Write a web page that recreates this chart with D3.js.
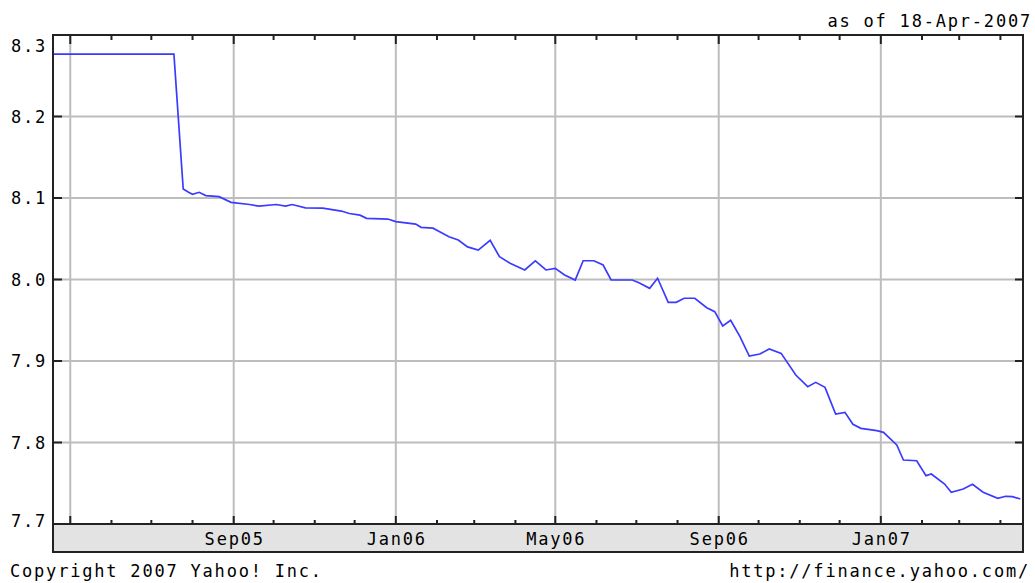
<!DOCTYPE html>
<html>
<head>
<meta charset="utf-8">
<script src="https://cdn.jsdelivr.net/npm/d3@7"></script>
<style>
  body { margin: 0; background: #fff; }
  text { font-family: "DejaVu Sans Mono", monospace; font-size: 17px; letter-spacing: 1.8px; fill: #000; }
</style>
</head>
<body>
<div id="chart"></div>
<script>
// USD/CNY, 2 year view
const dates = [
  "2005-04-18", "2005-07-18", "2005-07-25", "2005-07-29", "2005-08-01", "2005-08-06",
  "2005-08-11", "2005-08-21", "2005-08-30", "2005-09-13", "2005-09-20", "2005-10-03",
  "2005-10-10", "2005-10-15", "2005-10-25", "2005-11-07", "2005-11-21", "2005-11-27",
  "2005-12-05", "2005-12-10", "2005-12-26", "2006-01-01", "2006-01-16", "2006-01-20",
  "2006-01-29", "2006-02-03", "2006-02-10", "2006-02-17", "2006-02-24", "2006-03-04",
  "2006-03-13", "2006-03-20", "2006-03-28", "2006-04-08", "2006-04-16", "2006-04-24",
  "2006-05-01", "2006-05-08", "2006-05-16", "2006-05-22", "2006-05-30", "2006-06-06",
  "2006-06-12", "2006-06-28", "2006-07-03", "2006-07-11", "2006-07-17", "2006-07-25",
  "2006-07-31", "2006-08-06", "2006-08-14", "2006-08-23", "2006-08-29", "2006-09-04",
  "2006-09-10", "2006-09-17", "2006-09-24", "2006-10-02", "2006-10-09", "2006-10-18",
  "2006-10-29", "2006-11-07", "2006-11-13", "2006-11-20", "2006-11-28", "2006-12-05",
  "2006-12-11", "2006-12-17", "2006-12-29", "2007-01-03", "2007-01-13", "2007-01-18",
  "2007-01-28", "2007-02-04", "2007-02-08", "2007-02-18", "2007-02-23", "2007-03-04",
  "2007-03-11", "2007-03-19", "2007-03-30", "2007-04-05", "2007-04-10", "2007-04-16"
];
const rates = [
  8.2765, 8.2765, 8.111, 8.107, 8.1045, 8.107,
  8.103, 8.1016, 8.0947, 8.092, 8.090, 8.092,
  8.090, 8.092, 8.088, 8.0875, 8.084, 8.081,
  8.079, 8.075, 8.0742, 8.071, 8.068, 8.064,
  8.063, 8.0587, 8.0525, 8.0485, 8.040, 8.036,
  8.048, 8.028, 8.020, 8.0117, 8.023, 8.0117,
  8.0137, 8.0055, 7.9994, 8.023, 8.023, 8.0178,
  7.9994, 7.9994, 7.9961, 7.9892, 8.0015, 7.972,
  7.972, 7.977, 7.977, 7.9654, 7.9605, 7.943,
  7.950, 7.930, 7.906, 7.9086, 7.9147, 7.9094,
  7.8828, 7.8685, 7.8738, 7.8677, 7.835, 7.837,
  7.8223, 7.8174, 7.8145, 7.8125, 7.797, 7.7785,
  7.7776, 7.7593, 7.7613, 7.749, 7.739, 7.7429,
  7.7487, 7.739, 7.7315, 7.734, 7.7335, 7.7307
];
const yTicks = [7.7, 7.8, 7.9, 8.0, 8.1, 8.2, 8.3];
const xLabels = ["Sep05", "Jan06", "May06", "Sep06", "Jan07"];
const startDate = "2005-04-18";
const endDate = "2007-04-18";
const asOf = "as of 18-Apr-2007";

const width = 1035, height = 583;
const margin = { top: 35, right: 12, bottom: 59, left: 53 };
const bandH = 28;

const parse = d3.utcParse("%Y-%m-%d");
const fmt = d3.utcFormat("%b%y");
const data = dates.map((d, i) => ({ date: parse(d), value: rates[i] }));

const svg = d3.select("#chart").append("svg")
  .attr("width", width)
  .attr("height", height);

const x = d3.scaleUtc()
  .domain([parse(startDate), parse(endDate)])
  .range([margin.left, width - margin.right]);
const y = d3.scaleLinear()
  .domain([7.7, 8.3])
  .range([height - margin.bottom, margin.top]);

const x0 = x.range()[0], x1 = x.range()[1];
const y0 = y.range()[0], y1 = y.range()[1];

const months = d3.utcMonth.range(x.domain()[0], x.domain()[1]);
const majors = d3.utcMonth.every(4).range(x.domain()[0], x.domain()[1]);

// grey band under the axis
svg.append("rect")
  .attr("x", x0).attr("y", y0)
  .attr("width", x1 - x0).attr("height", bandH)
  .attr("fill", "#e3e3e3")
  .attr("stroke", "#222").attr("stroke-width", 2);

// gridlines
svg.append("g").selectAll("line")
  .data(majors)
  .join("line")
  .attr("x1", d => x(d)).attr("x2", d => x(d))
  .attr("y1", y1).attr("y2", y0)
  .attr("stroke", "#bdbdbd").attr("stroke-width", 2);
svg.append("g").selectAll("line")
  .data(yTicks.slice(1, -1))
  .join("line")
  .attr("x1", x0).attr("x2", x1)
  .attr("y1", d => y(d)).attr("y2", d => y(d))
  .attr("stroke", "#bdbdbd").attr("stroke-width", 2);

// month ticks top and bottom
const isMajor = d => majors.some(m => +m === +d);
const ticks = svg.append("g").attr("stroke", "#222").attr("stroke-width", 2);
ticks.selectAll(".tt")
  .data(months)
  .join("line")
  .attr("class", "tt")
  .attr("x1", d => x(d)).attr("x2", d => x(d))
  .attr("y1", y1).attr("y2", d => y1 + (isMajor(d) ? 9 : 5));
ticks.selectAll(".bt")
  .data(months)
  .join("line")
  .attr("class", "bt")
  .attr("x1", d => x(d)).attr("x2", d => x(d))
  .attr("y1", y0).attr("y2", d => y0 - (isMajor(d) ? 8 : 4));
ticks.selectAll(".lt")
  .data(yTicks)
  .join("line")
  .attr("class", "lt")
  .attr("x1", x0).attr("x2", x0 + 9)
  .attr("y1", d => y(d)).attr("y2", d => y(d));
ticks.selectAll(".rt")
  .data(yTicks)
  .join("line")
  .attr("class", "rt")
  .attr("x1", x1).attr("x2", x1 - 8)
  .attr("y1", d => y(d)).attr("y2", d => y(d));

// line
const line = d3.line()
  .x(d => x(d.date))
  .y(d => y(d.value));
svg.append("path")
  .datum(data)
  .attr("fill", "none")
  .attr("stroke", "#3b3bff")
  .attr("stroke-width", 1.7)
  .attr("d", line);

// plot frame
svg.append("rect")
  .attr("x", x0).attr("y", y1)
  .attr("width", x1 - x0).attr("height", y0 - y1)
  .attr("fill", "none")
  .attr("stroke", "#222").attr("stroke-width", 2);

// y labels
svg.append("g").selectAll("text")
  .data(yTicks)
  .join("text")
  .attr("x", x0 - 6)
  .attr("y", d => Math.min(Math.max(y(d), y1 + 11), y0 - 3))
  .attr("dy", "0.36em")
  .attr("text-anchor", "end")
  .text(d => d.toFixed(1));

// x labels
svg.append("g").selectAll("text")
  .data(majors.filter(d => xLabels.includes(fmt(d))))
  .join("text")
  .attr("x", d => x(d) + 1)
  .attr("y", y0 + 21)
  .attr("text-anchor", "middle")
  .text(d => fmt(d));

svg.append("text")
  .attr("x", width - 3).attr("y", 27)
  .attr("text-anchor", "end")
  .text(asOf);
svg.append("text")
  .attr("x", 10).attr("y", 577)
  .text("Copyright 2007 Yahoo! Inc.");
svg.append("text")
  .attr("x", width - 5).attr("y", 577)
  .attr("text-anchor", "end")
  .text("http://finance.yahoo.com/");
</script>
</body>
</html>
